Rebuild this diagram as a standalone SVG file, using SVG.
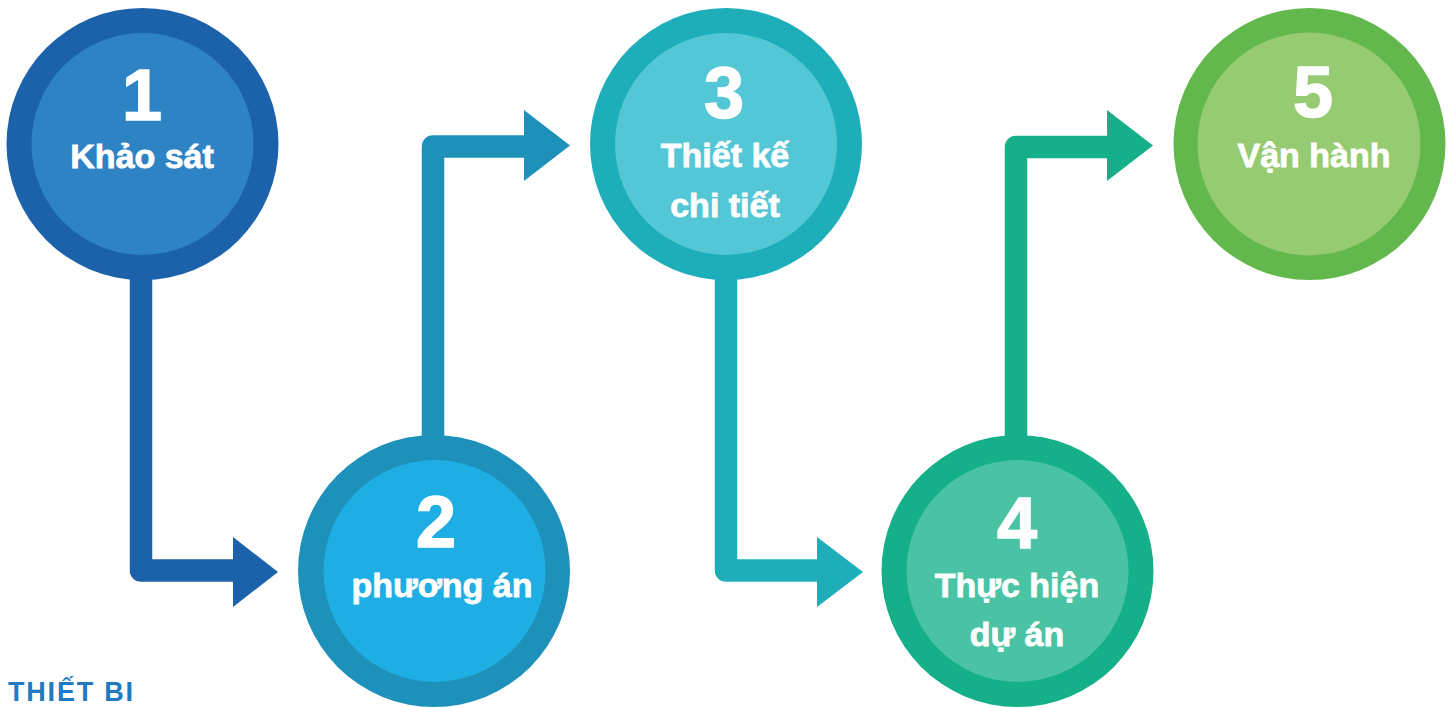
<svg xmlns="http://www.w3.org/2000/svg" width="1455" height="708" viewBox="0 0 1455 708">
<style>
.conn{fill:none;stroke-width:22.5;stroke-linejoin:round;stroke-linecap:butt}
.num{font-family:"Liberation Sans",Arial,sans-serif;font-weight:700;font-size:72px;fill:#fff;stroke:#fff;stroke-width:1.5;text-anchor:middle}
.lbl{font-family:"Liberation Sans",Arial,sans-serif;font-weight:700;font-size:34px;fill:#fff;stroke:#fff;stroke-width:0.8;text-anchor:middle}
.brand{font-family:"Liberation Sans",Arial,sans-serif;font-weight:700;font-size:27px;fill:#2179C1;letter-spacing:1.8px}
</style>
<rect width="1455" height="708" fill="#fff"/>
<g id="connectors">
  <path class="conn" stroke="#1C62AB" d="M141,260 V570.5 H236"/>
  <polygon fill="#1C62AB" points="233,537 278,572 233,607"/>
  <path class="conn" stroke="#1E91BB" d="M433,460 V146.5 H527"/>
  <polygon fill="#1E91BB" points="524,110 570,145.5 524,181"/>
  <path class="conn" stroke="#1DAEBA" d="M726,260 V570.5 H820"/>
  <polygon fill="#1DAEBA" points="817,537 863,572 817,607"/>
  <path class="conn" stroke="#15AF8A" d="M1016,460 V147 H1110"/>
  <polygon fill="#15AF8A" points="1107,110 1153,145.5 1107,181"/>
</g>
<g id="node1">
  <circle cx="142.5" cy="144" r="136" fill="#1C62AB"/>
  <circle cx="142.5" cy="144" r="111" fill="#2E83C5"/>
  <text class="num" x="142" y="120">1</text>
  <text class="lbl" x="142" y="168">Khảo sát</text>
</g>
<g id="node2">
  <circle cx="434" cy="571" r="136" fill="#1E91BB"/>
  <circle cx="434.5" cy="571" r="111" fill="#1FAEE4"/>
  <text class="num" x="436" y="547">2</text>
  <text class="lbl" x="442" y="597">phương án</text>
</g>
<g id="node3">
  <circle cx="726" cy="144" r="136" fill="#1DAEBA"/>
  <circle cx="726" cy="144" r="111" fill="#53C7D5"/>
  <text class="num" x="724" y="118">3</text>
  <text class="lbl" x="725" y="167">Thiết kế</text>
  <text class="lbl" x="725" y="217">chi tiết</text>
</g>
<g id="node4">
  <circle cx="1017.5" cy="571" r="136" fill="#15AF8A"/>
  <circle cx="1017.5" cy="571" r="111" fill="#49C3A3"/>
  <text class="num" x="1017" y="548">4</text>
  <text class="lbl" x="1017" y="597">Thực hiện</text>
  <text class="lbl" x="1017" y="646">dự án</text>
</g>
<g id="node5">
  <circle cx="1309.5" cy="144" r="136" fill="#63B84D"/>
  <circle cx="1309" cy="144" r="111.5" fill="#96CB72"/>
  <text class="num" x="1313" y="117">5</text>
  <text class="lbl" x="1314" y="167">Vận hành</text>
</g>
<text class="brand" x="8" y="701">THIẾT BI</text>
</svg>
